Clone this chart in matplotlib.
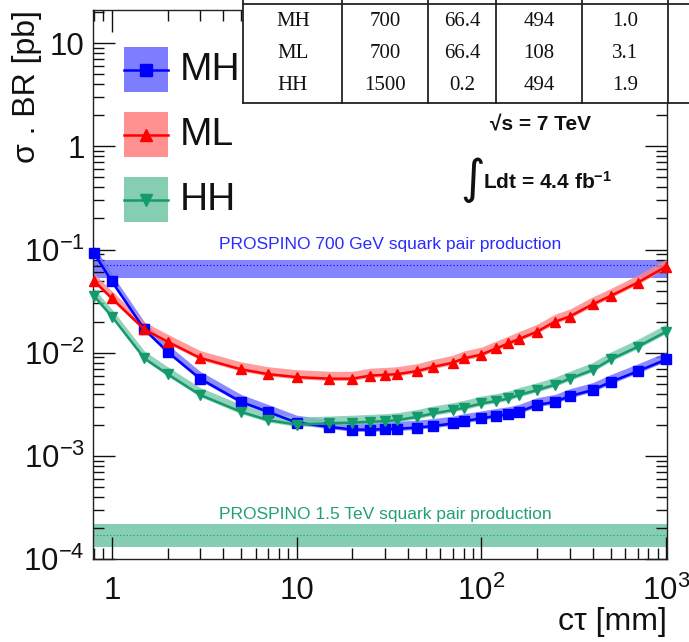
import numpy as np
import matplotlib
matplotlib.use("Agg")
import matplotlib.pyplot as plt
from matplotlib.lines import Line2D
from matplotlib.patches import Rectangle
from matplotlib.ticker import LogLocator, FuncFormatter, NullFormatter

plt.rcParams['font.family'] = ['Liberation Sans', 'DejaVu Sans']
plt.rcParams['mathtext.fontset'] = 'custom'
plt.rcParams['mathtext.rm'] = 'Liberation Sans'
plt.rcParams['mathtext.it'] = 'Liberation Sans:italic'
plt.rcParams['mathtext.bf'] = 'Liberation Sans:bold'

# ---------------- data ----------------
ctau = [0.8, 1, 1.5, 2, 3, 5, 7, 10, 15, 20, 25, 30, 35, 45, 55, 70, 80, 100,
        120, 140, 160, 200, 250, 300, 400, 500, 700, 1000]
mh = [0.092, 0.049, 0.0168, 0.0102, 0.0056, 0.00334, 0.00267, 0.0021, 0.00191,
      0.00180, 0.00179, 0.00182, 0.00183, 0.00188, 0.00195, 0.00206, 0.00217,
      0.00231, 0.00244, 0.00254, 0.00268, 0.00311, 0.00334, 0.00379, 0.00435,
      0.0052, 0.0066, 0.0086]
ml = [0.0497, 0.0336, 0.0168, 0.0128, 0.0089, 0.0069, 0.0062, 0.0058, 0.0056,
      0.0056, 0.0060, 0.0061, 0.0062, 0.00664, 0.0073, 0.0080, 0.0088, 0.0096,
      0.0110, 0.0123, 0.0136, 0.0160, 0.0200, 0.0224, 0.0295, 0.0355, 0.0478,
      0.0684]
hh = [0.0355, 0.0224, 0.0088, 0.0062, 0.0039, 0.00267, 0.00222, 0.00201,
      0.00206, 0.0021, 0.00214, 0.00217, 0.00222, 0.00239, 0.00258, 0.00278,
      0.00292, 0.00322, 0.0034, 0.0036, 0.0039, 0.00434, 0.0049, 0.0056,
      0.0068, 0.0086, 0.0114, 0.016]
band_lo, band_hi = 0.96, 1.18

prospino700 = (0.0524, 0.0715, 0.080)    # low, central, high
prospino1500 = (1.31e-4, 1.71e-4, 2.19e-4)

series_names = ['MH', 'ML', 'HH']
table_rows = [['MH', '700', '66.4', '494', '1.0'],
              ['ML', '700', '66.4', '108', '3.1'],
              ['HH', '1500', '0.2', '494', '1.9']]

# ---------------- style ----------------
BLUE = '#0000ff'
RED = '#ff0000'
GREEN = '#159a6c'
BLUE_B = '#6f6fff'
RED_B = '#ff8585'
GREEN_B = '#78c9aa'

W, H = 689, 642
fig = plt.figure(figsize=(W / 100, H / 100), dpi=100)
L, R, T, B = 93, 667, 10, 559
ax = fig.add_axes([L / W, 1 - B / H, (R - L) / W, (B - T) / H])
ax.set_xscale('log')
ax.set_yscale('log')
ax.set_xlim(0.79, 1010)
ax.set_ylim(1e-4, 21)

x = np.array(ctau)
# PROSPINO bands
ax.fill_between([0.79, 1010], prospino700[0], prospino700[2], color=BLUE_B, alpha=0.85, lw=0, zorder=1)
ax.plot([0.79, 1010], [prospino700[1]] * 2, color=BLUE, ls=(0, (1, 2)), lw=0.8, zorder=1.1)
ax.fill_between([0.79, 1010], prospino1500[0], prospino1500[2], color=GREEN_B, alpha=0.9, lw=0, zorder=1)
ax.plot([0.79, 1010], [prospino1500[1]] * 2, color=GREEN, ls=(0, (1, 2)), lw=0.8, zorder=1.1)

fig.text(390 / W, 1 - 245 / H, 'PROSPINO 700 GeV squark pair production',
         color='#2a2aff', fontsize=12.5, ha='center', va='center')
fig.text(385 / W, 1 - 515 / H, 'PROSPINO 1.5 TeV squark pair production',
         color='#22a074', fontsize=12.5, ha='center', va='center')

specs = [(mh, BLUE, BLUE_B, 's'), (ml, RED, RED_B, '^'), (hh, GREEN, GREEN_B, 'v')]
for ys, c, cb, m in specs:
    y = np.array(ys)
    ax.fill_between(x, y * band_lo, y * band_hi, color=cb, alpha=0.8, lw=0, zorder=2)
    ax.plot(x, y, color=c, lw=1.8, marker=m, ms=7, mec=c, mfc=c, zorder=3, clip_on=False)

# axes style
for s in ax.spines.values():
    s.set_linewidth(1.0)
    s.set_color('#222222')
ax.tick_params(which='both', direction='in', top=True, right=True, labelsize=22.5, colors='#111111')
ax.tick_params(which='major', length=16, width=1.0)
ax.tick_params(which='minor', length=8, width=1.0)
ax.tick_params(axis='x', pad=12)
ax.tick_params(axis='y', pad=6)
ax.xaxis.set_major_locator(LogLocator(base=10, numticks=10))
ax.xaxis.set_minor_locator(LogLocator(base=10, subs=np.arange(2, 10), numticks=20))
ax.yaxis.set_major_locator(LogLocator(base=10, numticks=12))
ax.yaxis.set_minor_locator(LogLocator(base=10, subs=np.arange(2, 10), numticks=30))
ax.xaxis.set_minor_formatter(NullFormatter())
ax.yaxis.set_minor_formatter(NullFormatter())


def fmt(v, pos):
    e = int(round(np.log10(v)))
    if e == 0:
        return '1'
    if e == 1:
        return '10'
    return r'$10^{%d}$' % e


ax.xaxis.set_major_formatter(FuncFormatter(fmt))
ax.yaxis.set_major_formatter(FuncFormatter(fmt))

fig.text(667 / W, 1 - 622 / H, 'cτ [mm]', fontsize=23, ha='right', va='center', color='#111111')
fig.text(27 / W, 1 - 10 / H, 'σ . BR [pb]', fontsize=23, ha='center', va='top',
         rotation=90, color='#111111')

# legend (manual)
leg_y = [70, 135, 200]
for name, (ys, c, cb, m), yy in zip(series_names, specs, leg_y):
    fig.add_artist(Rectangle((124 / W, 1 - (yy + 22) / H), 44 / W, 45 / H,
                             transform=fig.transFigure, color=cb, alpha=0.9, lw=0))
    fig.add_artist(Line2D([124 / W, 168 / W], [1 - yy / H] * 2, transform=fig.transFigure,
                          color=c, lw=1.8))
    fig.add_artist(Line2D([146 / W], [1 - yy / H], transform=fig.transFigure, color=c,
                          marker=m, ms=8, mfc=c, mec=c, lw=0))
    fig.text(180 / W, 1 - yy / H, name, fontsize=28, ha='left', va='center', color='#111111')

# energy / lumi annotations
fig.text(540 / W, 1 - 125 / H, '√s = 7 TeV', fontsize=15, fontweight='bold', ha='center',
         va='center', color='#111111')
fig.text(473 / W, 1 - 180 / H, '∫', fontsize=34, ha='center', va='center', color='#111111',
         family=['DejaVu Sans'])
fig.text(483 / W, 1 - 182 / H, r'Ldt = 4.4 fb$^{\mathbf{-1}}$', fontsize=15, fontweight='bold',
         ha='left', va='center', color='#111111')

# table overlay (top right)
fig.add_artist(Rectangle((243 / W, 1 - 103 / H), (W - 243) / W, 103 / H,
                         transform=fig.transFigure, facecolor='white', edgecolor='none', zorder=5))
lk = dict(transform=fig.transFigure, color='#222222', lw=1.3, zorder=6)
fig.add_artist(Line2D([243 / W, 1], [1 - 4 / H] * 2, **lk))
fig.add_artist(Line2D([243 / W, 1], [1 - 103 / H] * 2, **lk))
col_edges = [243, 342, 428, 496, 582, 668]
for cx in col_edges:
    fig.add_artist(Line2D([cx / W] * 2, [1, 1 - 103 / H], **lk))
col_centers = [293, 385, 462, 539, 625]
row_y = [21, 53, 86]
for row, ry in zip(table_rows, row_y):
    for val, cx in zip(row, col_centers):
        fig.text(cx / W, 1 - ry / H, val, fontsize=15, family=['Liberation Serif'],
                 ha='center', va='center', color='#111111', zorder=7)

fig.savefig('out.png', dpi=100)
